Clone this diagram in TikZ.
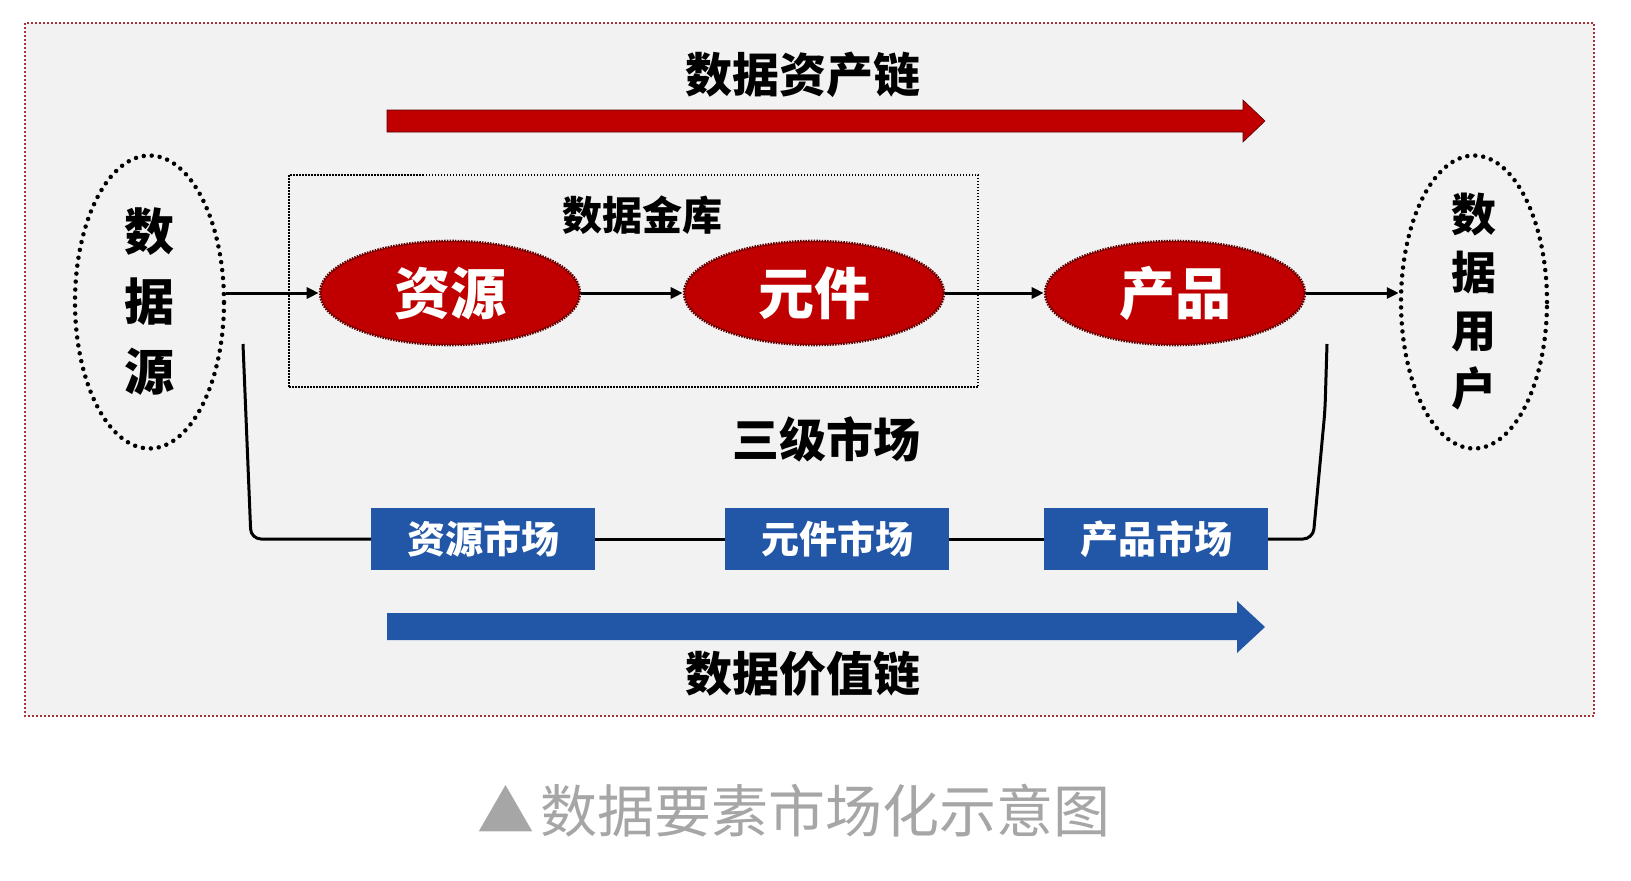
\documentclass[tikz,border=0pt]{standalone}
\usepackage{fontspec}
\newfontfamily\cjk{Noto Sans CJK SC}
\usetikzlibrary{arrows.meta,shapes.geometric}
\definecolor{bgray}{HTML}{F2F2F2}
\definecolor{dred}{HTML}{C00000}
\definecolor{edgered}{HTML}{5A0000}
\definecolor{framered}{HTML}{A83238}
\definecolor{mblue}{HTML}{2256A6}
\definecolor{capgray}{HTML}{A6A6A6}
\tikzset{
  cjkfont/.style={font=\cjk\bfseries\fontsize{#1}{#1}\selectfont},
  lab/.style={text=black, inner sep=0pt},
  redell/.style={ellipse, fill=dred, draw=edgered, line width=2.6pt, dash pattern=on 1.5pt off 1.2pt,
    minimum width=260pt, minimum height=104pt, text=white, inner sep=0pt, cjkfont=56},
  srcell/.style={ellipse, draw=black, line width=4.5pt, dash pattern=on 0pt off 8pt, line cap=round,
    minimum width=149pt, minimum height=293pt, inner sep=0pt},
  mkt/.style={rectangle, fill=mblue, text=white, minimum width=224pt, minimum height=62pt,
    inner sep=0pt, cjkfont=38},
  conn/.style={line width=3pt, -{Triangle[length=12pt,width=11pt]}},
  mline/.style={line width=3pt},
  vaultbox/.style={rectangle, draw=black, line width=1.5pt, dash pattern=on 1.5pt off 1.5pt,
    minimum width=689pt, minimum height=212pt, inner sep=0pt},
}
\begin{document}
\begin{tikzpicture}[x=1pt,y=-1pt]
\useasboundingbox (0,0) rectangle (1631,881);
\fill[white] (0,0) rectangle (1631,881);
% outer frame
\draw[framered, fill=bgray, line width=1.8pt, dash pattern=on 2pt off 2pt] (25,23) rectangle (1594,716);

% top chain arrow
\node[lab, cjkfont=47] (tchain) at (803,75) {数据资产链};
\filldraw[fill=dred, draw=edgered, line width=0.6pt] (387,110) -- (1243,110) -- (1243,100) -- (1265,121)
  -- (1243,142) -- (1243,132) -- (387,132) -- cycle;

% data vault box
\node[vaultbox] (vault) at (633.5,281) {};
\node[lab, cjkfont=40] (vaultlab) at (642,215) {数据金库};

% source and user ellipses
\node[srcell] (src) at (149.5,302) {};
\node[lab, align=center, font=\cjk\bfseries\fontsize{50}{70}\selectfont] (srctxt) at (src.center) {数\\据\\源};
\node[srcell, minimum width=146pt] (usr) at (1474,302) {};
\node[lab, align=center, font=\cjk\bfseries\fontsize{45}{58}\selectfont] (usrtxt) at (usr.center) {数\\据\\用\\户};

% red ellipses
\node[redell] (res) at (450,293) {资源};
\node[redell] (comp) at (814,293) {元件};
\node[redell] (prod) at (1175,293) {产品};

% connectors
\draw[conn] (src.east |- res.west) -- (res.west);
\draw[conn] (res.east) -- (comp.west);
\draw[conn] (comp.east) -- (prod.west);
\draw[conn] (prod.east) -- (usr.west |- prod.east);

% three-level market
\node[lab, cjkfont=47] (tlm) at (826,439) {三级市场};
\node[mkt] (rm) at (483,539) {资源市场};
\node[mkt] (cm) at (837,539) {元件市场};
\node[mkt] (pm) at (1156,539) {产品市场};
\coordinate (lt) at (243,344);
\coordinate (rt) at (1327,344);
\draw[mline, rounded corners=10pt] (lt) -- (251,539) -- (rm.west);
\draw[mline] (rm.east) -- (cm.west);
\draw[mline] (cm.east) -- (pm.west);
\draw[mline, rounded corners=10pt] (pm.east) -- (1313,539) -- (1325,410) -- (rt);

% bottom chain arrow
\fill[mblue] (387,613) -- (1237,613) -- (1237,601) -- (1265,627) -- (1237,653) -- (1237,640)
  -- (387,640) -- cycle;
\node[lab, cjkfont=47] (bchain) at (803,674) {数据价值链};

% caption
\node[lab, text=capgray, font=\cjk\fontsize{57}{57}\selectfont] (cap) at (794,811) {▲\hspace{6pt}数据要素市场化示意图};
\end{tikzpicture}
\end{document}
